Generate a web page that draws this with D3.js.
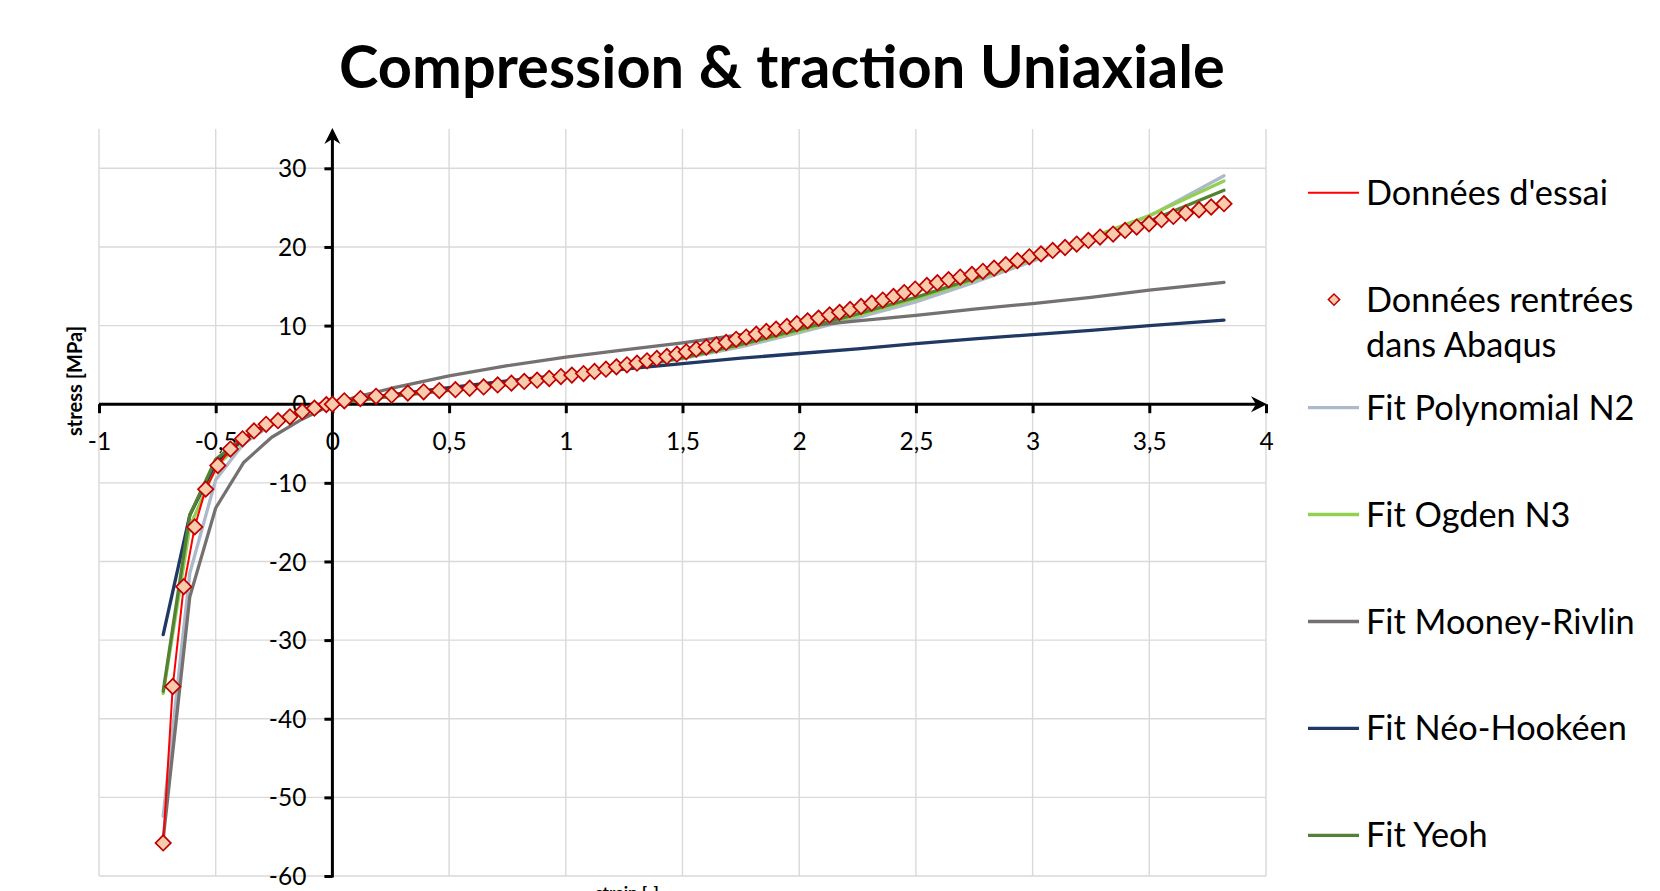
<!DOCTYPE html>
<html><head><meta charset="utf-8">
<script src="https://cdn.jsdelivr.net/npm/d3@7"></script>
<style>body{margin:0;background:#fff;} svg{display:block;}</style>
</head><body><svg id="c" width="1660" height="891"></svg>
<script>
// ---- data ----
const testStrain = [-0.725,-0.684,-0.637,-0.590,-0.543,-0.491,-0.437,-0.385,-0.336,-0.284,-0.233,-0.182,-0.129,-0.077,-0.026,0,
 0.051,0.12,0.187,0.254,0.323,0.391,0.458,0.527,0.588,0.648,0.708,0.767,0.822,0.877,0.929,0.979,1.026,1.076,1.123,1.172,1.217,1.262,1.305,1.348,1.39,1.433,1.476,1.516,1.559,1.602,1.645,1.687,1.73,1.773,1.816,1.859,1.901,1.947,1.99,2.036,2.083,2.13,2.173,2.218,2.265,2.311,2.358,2.404,2.45,2.497,2.547,2.592,2.64,2.69,2.74,2.787,2.835,2.885,2.935,2.986,3.036,3.086,3.139,3.189,3.239,3.289,3.345,3.396,3.446,3.499,3.552,3.603,3.656,3.713,3.765,3.82];
const testStress = [-55.8,-35.9,-23.2,-15.6,-10.8,-7.8,-5.7,-4.4,-3.4,-2.55,-2.1,-1.6,-0.95,-0.5,-0.05,0,
 0.43,0.72,1.0,1.15,1.41,1.58,1.74,1.85,2.03,2.2,2.45,2.68,2.9,3.05,3.27,3.52,3.7,3.9,4.17,4.45,4.75,5.01,5.22,5.52,5.82,6.07,6.36,6.66,7.0,7.26,7.54,7.85,8.25,8.54,8.9,9.25,9.55,9.89,10.24,10.6,10.95,11.35,11.68,12.05,12.43,12.85,13.25,13.7,14.2,14.65,15.1,15.45,15.83,16.17,16.5,16.9,17.3,17.74,18.26,18.75,19.12,19.55,19.93,20.37,20.83,21.26,21.64,22.1,22.53,22.95,23.46,23.88,24.31,24.73,25.08,25.5];

const fitStrain = [-0.725,-0.611,-0.5,-0.38,-0.26,-0.13,0,0.1,0.25,0.5,0.75,1,1.25,1.5,1.75,2,2.25,2.5,2.75,3,3.25,3.5,3.82];
const fitPolyN2   = [-52.4,-21.5,-9.6,-5.0,-2.6,-1.1,0,0.45,0.98,1.75,2.48,3.4,4.6,5.8,7.3,9.1,11.0,13.0,15.5,18.2,21.0,23.9,29.06];
const fitOgdenN3  = [-36.8,-15.6,-8.0,-4.5,-2.4,-1.0,0,0.45,1.0,1.76,2.5,3.42,4.65,5.85,7.5,9.3,11.3,13.4,15.8,18.4,21.2,24.0,28.4];
const fitMooney   = [-55.3,-24.5,-13.2,-7.4,-4.2,-1.9,0,0.9,2.0,3.6,4.9,6.0,6.9,7.8,8.85,9.85,10.6,11.3,12.1,12.8,13.6,14.5,15.5];
const fitNeoHooke = [-29.3,-14.1,-7.5,-4.4,-2.4,-1.0,0,0.55,1.2,2.1,2.95,3.75,4.45,5.15,5.85,6.45,7.05,7.7,8.3,8.85,9.4,10.0,10.7];
const fitYeoh     = [-36.5,-14.1,-7.0,-4.2,-2.3,-1.0,0,0.45,1.0,1.78,2.52,3.45,4.7,5.9,7.6,9.5,11.5,13.6,16.0,18.6,21.0,23.3,27.2];

const xTicks = [-1,-0.5,0,0.5,1,1.5,2,2.5,3,3.5,4];
const yTicks = [-60,-50,-40,-30,-20,-10,0,10,20,30];

const titleText = "Compression & traction Uniaxiale";
const xLabel = "strain [-]";
const yLabel = "stress [MPa]";
const legendNames = ["Données d'essai", ["Données rentrées","dans Abaqus"], "Fit Polynomial N2", "Fit Ogden N3", "Fit Mooney-Rivlin", "Fit Néo-Hookéen", "Fit Yeoh"];

// ---- chart ----
const svg = d3.select("#c");
const FONT = "Lato, 'Open Sans', sans-serif";
const x = d3.scaleLinear().domain([-1, 4]).range([99, 1266]);
const y = d3.scaleLinear().domain([-60, 35]).range([876, 129]);
const fmt = d => String(d).replace(".", ",");

function fitWidth(sel, w) {
  const cur = sel.node().getComputedTextLength();
  const fs = parseFloat(sel.attr("font-size"));
  sel.attr("font-size", fs * w / cur);
}

// title
const title = svg.append("text").attr("x", 782).attr("y", 88).attr("text-anchor", "middle")
  .attr("font-family", FONT).attr("font-weight", "bold").attr("font-size", 58).attr("fill", "#000").text(titleText);
fitWidth(title, 886);

// gridlines
const grid = svg.append("g").attr("stroke", "#d9d9d9").attr("stroke-width", 1.4);
grid.selectAll("line.v").data(xTicks).join("line").attr("class", "v")
  .attr("x1", d => x(d)).attr("x2", d => x(d)).attr("y1", y(35)).attr("y2", y(-60));
grid.selectAll("line.h").data(yTicks).join("line").attr("class", "h")
  .attr("x1", x(-1)).attr("x2", x(4)).attr("y1", d => y(d)).attr("y2", d => y(d));

// axes
const xAxis = d3.axisBottom(x).tickValues(xTicks).tickSize(9).tickSizeOuter(0).tickFormat(fmt);
const gx = svg.append("g").attr("transform", `translate(0,${y(0)})`).call(xAxis);
gx.select(".domain").remove();
gx.selectAll(".tick line").attr("stroke", "#000").attr("stroke-width", 3);
gx.selectAll(".tick text").attr("y", 37).attr("dy", "0.35em").attr("font-family", FONT)
  .attr("font-size", 24.5).attr("fill", "#000");

const yAxis = d3.axisLeft(y).tickValues(yTicks).tickSize(8).tickSizeOuter(0).tickFormat(fmt);
const gy = svg.append("g").attr("transform", `translate(${x(0)},0)`).call(yAxis);
gy.select(".domain").remove();
gy.selectAll(".tick line").attr("stroke", "#000").attr("stroke-width", 3);
gy.selectAll(".tick text").attr("x", -26).attr("dy", "0.35em").attr("font-family", FONT)
  .attr("font-size", 24.5).attr("fill", "#000").attr("text-anchor", "end");

// axis lines with arrows
svg.append("line").attr("x1", x(-1)).attr("x2", x(4) - 6).attr("y1", y(0)).attr("y2", y(0))
  .attr("stroke", "#000").attr("stroke-width", 3);
svg.append("line").attr("x1", x(0)).attr("x2", x(0)).attr("y1", y(-60) + 1.5).attr("y2", y(35) + 6)
  .attr("stroke", "#000").attr("stroke-width", 3);
const arrow = "M0,0 L-16,-8 L-11,0 L-16,8 Z";
svg.append("path").attr("d", arrow).attr("transform", `translate(${x(4) + 1},${y(0)})`).attr("fill", "#000");
svg.append("path").attr("d", arrow).attr("transform", `translate(${x(0)},${y(35) - 1}) rotate(-90)`).attr("fill", "#000");

// axis titles
const yl = svg.append("text").attr("transform", "translate(82,381) rotate(-90)").attr("text-anchor", "middle")
  .attr("font-family", FONT).attr("font-weight", "bold").attr("font-size", 16).attr("fill", "#000").text(yLabel);
fitWidth(yl, 110);
svg.append("text").attr("x", 627).attr("y", 899).attr("text-anchor", "middle")
  .attr("font-family", FONT).attr("font-weight", "bold").attr("font-size", 17).attr("fill", "#000").text(xLabel);

// series
const fits = [
  {vals: fitPolyN2, color: "#adb9ca"},
  {vals: fitOgdenN3, color: "#92d050"},
  {vals: fitMooney, color: "#767171"},
  {vals: fitNeoHooke, color: "#1f3864"},
  {vals: fitYeoh, color: "#548235"}
];
const line = d3.line().x(d => x(d[0])).y(d => y(d[1]));
const plot = svg.append("g");
fits.forEach(f => {
  plot.append("path").datum(fitStrain.map((s, i) => [s, f.vals[i]]))
    .attr("d", line).attr("fill", "none").attr("stroke", f.color).attr("stroke-width", 3.3)
    .attr("stroke-linejoin", "round").attr("stroke-linecap", "round");
});
const testPts = testStrain.map((s, i) => [s, testStress[i]]);
plot.append("path").datum(testPts).attr("d", line).attr("fill", "none")
  .attr("stroke", "#ff0000").attr("stroke-width", 2);
const diamond = d3.symbol(d3.symbolSquare, 118)();
plot.selectAll("path.mk").data(testPts).join("path").attr("class", "mk")
  .attr("d", diamond).attr("transform", d => `translate(${x(d[0])},${y(d[1])}) rotate(45)`)
  .attr("fill", "#f8cbad").attr("stroke", "#c00000").attr("stroke-width", 1.7);

// legend
const legY = [192.7, 299.6, 407.6, 514.5, 621.5, 728.4, 835.3];
const legColors = ["#ff0000", null, "#adb9ca", "#92d050", "#767171", "#1f3864", "#548235"];
const leg = svg.append("g");
let refText = null;
legendNames.forEach((name, i) => {
  const cy = legY[i];
  if (legColors[i]) {
    leg.append("line").attr("x1", 1308).attr("x2", 1359).attr("y1", cy).attr("y2", cy)
      .attr("stroke", legColors[i]).attr("stroke-width", i === 0 ? 2 : 3.3);
  } else {
    leg.append("path").attr("d", d3.symbol(d3.symbolSquare, 64)())
      .attr("transform", `translate(1334,${cy}) rotate(45)`)
      .attr("fill", "#f8cbad").attr("stroke", "#c00000").attr("stroke-width", 1.5);
  }
  const lines = Array.isArray(name) ? name : [name];
  lines.forEach((t, j) => {
    const tx = leg.append("text").attr("class", "lt").attr("x", 1366).attr("y", cy + j * 45.5)
      .attr("dy", "0.35em").attr("font-family", FONT).attr("font-size", 28).attr("fill", "#000").text(t);
    if (i === 0) refText = tx;
  });
});
const cur = refText.node().getComputedTextLength();
const legFs = 28 * 242 / cur;
leg.selectAll("text.lt").attr("font-size", legFs);
</script></body></html>
